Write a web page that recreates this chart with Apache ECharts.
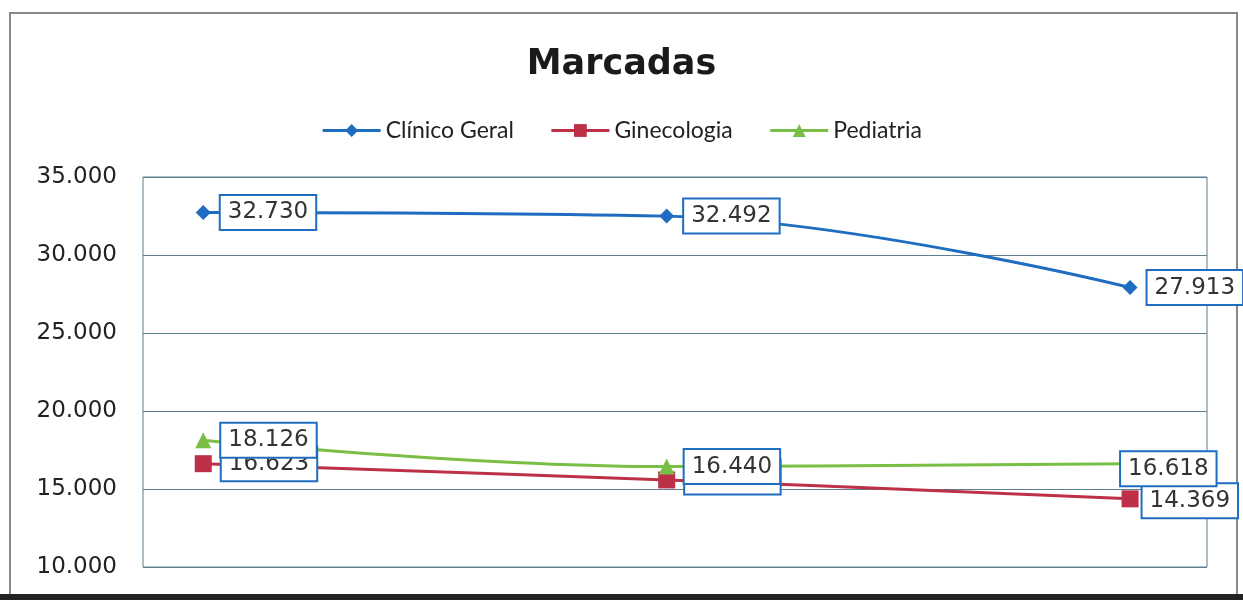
<!DOCTYPE html>
<html>
<head>
<meta charset="utf-8">
<script src="https://cdn.jsdelivr.net/npm/echarts@6/dist/echarts.min.js"></script>
<style>
  html, body { margin: 0; padding: 0; background: #fff; }
  #chart { width: 1243px; height: 600px; }
</style>
</head>
<body>
<div id="chart"></div>
<script>
// categories have no visible label in the picture
const categories = ['1', '2', '3'];
const clinico_geral = [32730, 32492, 27913];
const ginecologia = [16623, 15580, 14369];
const pediatria = [18126, 16440, 16618];
const y_ticks = [10000, 15000, 20000, 25000, 30000, 35000];

function fmt_pt(v) {
    return String(v).replace(/\B(?=(\d{3})+(?!\d))/g, '.');
}

function to_points(values) {
    return values.map((v, i) => [i, v]);
}

function gen_line_series(name, values, color, symbol, size) {
    return {
        name: name,
        type: 'line',
        data: to_points(values),
        smooth: 0.4,
        symbol: symbol,
        symbolSize: size,
        itemStyle: {color: color},
        lineStyle: {width: 3, color: color},
        label: {
            show: true,
            position: 'right',
            distance: 10,
            formatter: p => fmt_pt(p.value[1]),
            color: '#333',
            fontFamily: 'DejaVu Sans',
            fontSize: 23,
            lineHeight: 26,
            backgroundColor: '#fff',
            borderColor: '#1f6dc0',
            borderWidth: 2,
            padding: [4, 7, 3, 7]
        }
    };
}

let chart = echarts.init(document.getElementById('chart'));

let series = [
    gen_line_series('Clínico Geral', clinico_geral, '#1f6dc0', 'diamond', 15),
    gen_line_series('Ginecologia', ginecologia, '#be3048', 'rect', 17),
    gen_line_series('Pediatria', pediatria, '#79bf45', 'triangle', 16),
];
// labels moved by hand in the original
series[1].data[1] = {value: series[1].data[1], label: {offset: [0, -3]}};
series[1].data[2] = {value: series[1].data[2], label: {offset: [-6, 2]}};
series[2].data[2] = {value: series[2].data[2], label: {offset: [-27, 5]}};

let option = {
    animation: false,
    title: {
        text: 'Marcadas',
        left: 'center',
        top: 42,
        textStyle: {
            color: '#1a1a1a',
            fontFamily: 'DejaVu Sans',
            fontWeight: 'bold',
            fontSize: 35
        }
    },
    legend: {
        top: 114,
        left: 'center',
        itemWidth: 58,
        itemHeight: 16,
        itemGap: 36,
        lineStyle: {width: 3},
        textStyle: {color: '#222', fontFamily: 'Lato', fontSize: 23}
    },
    grid: {
        left: 143, right: 36, top: 177, bottom: 33,
        show: true,
        borderColor: '#5f7f8f',
        borderWidth: 1
    },
    xAxis: {
        type: 'value',
        min: -0.13,
        max: 2.166,
        axisLabel: {show: false},
        axisTick: {show: false},
        axisLine: {show: false},
        splitLine: {show: false}
    },
    yAxis: {
        type: 'value',
        min: y_ticks[0],
        max: y_ticks[y_ticks.length - 1],
        interval: 5000,
        axisLine: {show: false},
        axisTick: {show: false},
        axisLabel: {
            formatter: v => fmt_pt(v),
            color: '#222',
            fontFamily: 'DejaVu Sans',
            fontSize: 23,
            margin: 26
        },
        splitLine: {lineStyle: {color: '#5f7f8f', width: 1}}
    },
    graphic: [{
        type: 'rect',
        shape: {x: 10, y: 13, width: 1227, height: 582},
        style: {fill: 'none', stroke: '#888', lineWidth: 2},
        silent: true
    }, {
        type: 'rect',
        shape: {x: 0, y: 594, width: 1243, height: 6},
        style: {fill: '#222'},
        silent: true
    }],
    series: series
};

chart.setOption(option);
</script>
</body>
</html>
